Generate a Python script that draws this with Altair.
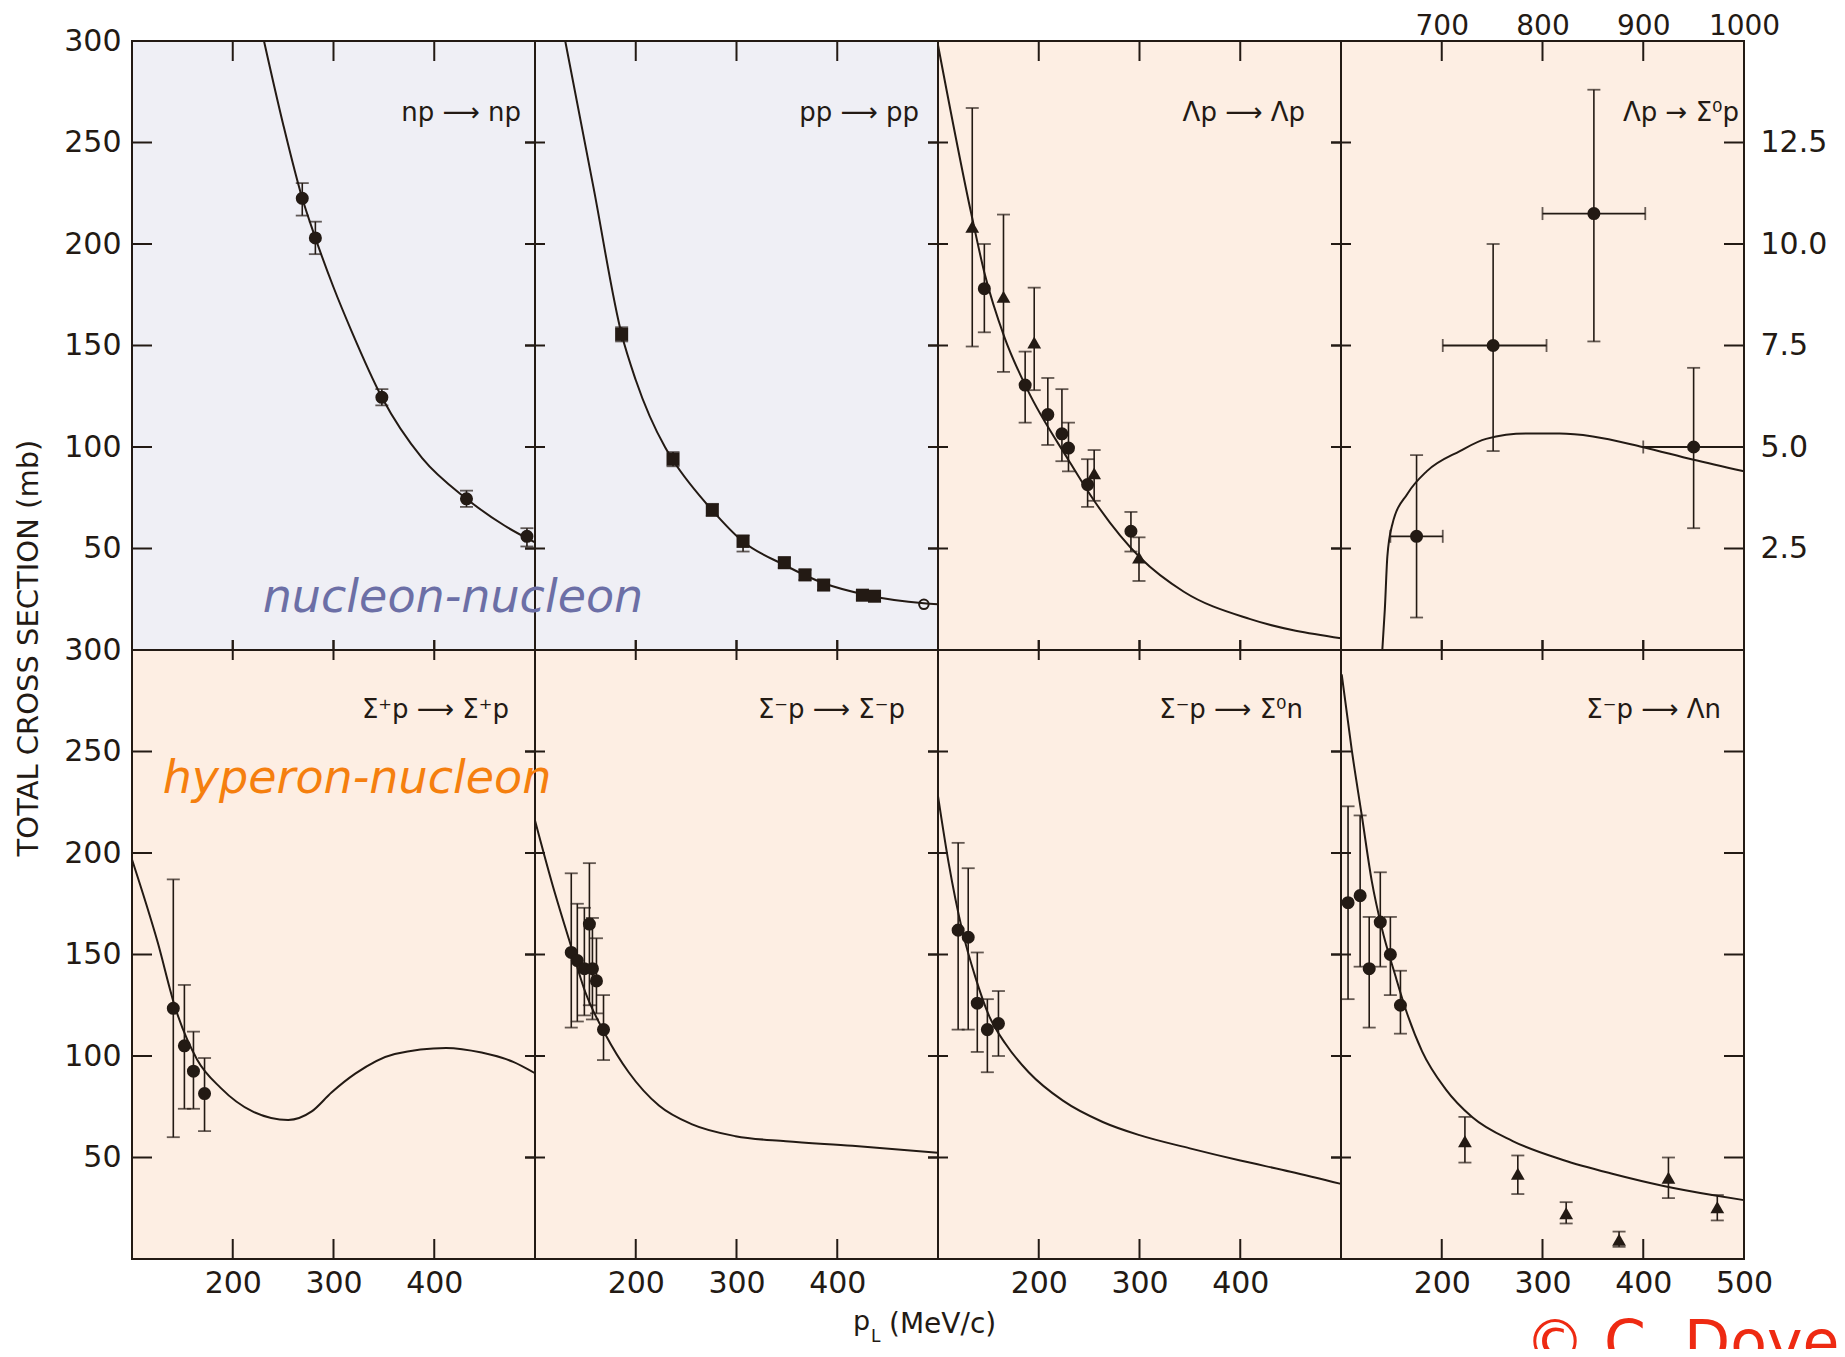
import altair as alt
import pandas as pd

INK = "#231a14"
LAV = "#efeff5"
PEACH = "#fdeee3"
FONT = "DejaVu Sans"
W, H = 403, 609
TL = 20

# ---------------- data ----------------
# np -> np
NP_CURVE_X = [231, 250, 269, 282, 300, 318, 348, 388, 432, 470, 500]
NP_CURVE_Y = [300, 259, 222.5, 203, 178.7, 157, 124.5, 94.5, 74.5, 61.2, 53]
NP_X = [269, 282, 348, 432, 492]
NP_Y = [222.5, 203, 124.5, 74.5, 56]
NP_LO = [214, 195, 120.5, 70.5, 51]
NP_HI = [230, 211, 128.5, 78.5, 60]

# pp -> pp
PP_CURVE_X = [130, 158, 186, 200, 229, 237, 276, 306, 347, 386, 430, 486, 500]
PP_CURVE_Y = [300, 228, 155.5, 133, 100, 93.5, 68.8, 53.6, 42, 33, 27, 23, 22.5]
PP_X = [186, 237, 276, 306.5, 347.5, 368, 386.5, 425, 437]
PP_Y = [155.5, 94, 69, 53.5, 43, 37, 32, 27, 26.5]
PP_LO = [152, 90.5, 66, 48.5, 40.5, 34.5, 29.5, 25, 24.5]
PP_HI = [159, 97.5, 72, 56.5, 45.5, 39.5, 34.5, 29, 28.5]
PP_OPEN_X = [486]
PP_OPEN_Y = [22.5]

# Lambda p -> Lambda p
LP_CURVE_X = [100, 133, 146, 166, 189, 229, 255, 301, 344, 410, 500]
LP_CURVE_Y = [298, 215, 186, 154, 128, 94, 73.5, 45.3, 28.7, 15.2, 5.8]
LPC_X = [146, 186.5, 209, 223, 229.5, 248.5, 291.5]
LPC_Y = [178, 130.5, 116, 106.5, 99.5, 81.5, 58.5]
LPC_LO = [156.5, 112, 101, 93, 88, 70.5, 48.5]
LPC_HI = [200, 147, 134, 128.5, 112, 94, 68]
LPT_X = [134, 165, 195.5, 255, 299.5]
LPT_Y = [208.5, 174, 151.5, 87, 45.5]
LPT_LO = [149.5, 137, 128, 73.5, 34]
LPT_HI = [267, 214.5, 178.5, 98.5, 55.5]

# Lambda p -> Sigma0 p (p_L 600-1000, sigma 0-15 mb)
LS_CURVE_X = [641, 643.5, 646, 651, 666, 685, 718, 744, 784, 817, 850, 899, 949, 1000]
LS_CURVE_Y = [0, 1.0, 2.3, 3.1, 3.85, 4.4, 4.9, 5.2, 5.33, 5.33, 5.26, 5.0, 4.69, 4.4]
LS_X = [675, 751, 851, 950]
LS_Y = [2.8, 7.5, 10.75, 5.0]
LS_LO = [0.8, 4.9, 7.6, 3.0]
LS_HI = [4.8, 10.0, 13.8, 6.95]
LS_XLO = [649, 701, 800, 900]
LS_XHI = [701, 804, 902, 1000]

# Sigma+ p -> Sigma+ p
SP_CURVE_X = [100, 125.5, 143, 164.7, 188, 219.6, 255, 278.4, 298, 321.6, 360.8, 411.8, 447, 478.4, 500]
SP_CURVE_Y = [196.8, 156, 123.7, 98.2, 84.3, 72.7, 68.5, 72.7, 82, 91.3, 101, 104, 101.7, 97.1, 91.5]
SP_X = [141, 152, 161, 172]
SP_Y = [123.5, 105, 92.5, 81.5]
SP_LO = [60, 74, 74, 63]
SP_HI = [187, 135, 112, 99]

# Sigma- p -> Sigma- p
SM_CURVE_X = [100, 117, 134, 150, 170, 193, 223, 256, 299, 349, 415, 500]
SM_CURVE_Y = [216, 185, 157, 131.4, 110.5, 92, 75.6, 66.3, 60.5, 58, 55.8, 52.3]
SM_X = [136, 142, 149, 154, 157, 161, 168]
SM_Y = [151, 147, 143, 165, 143, 137, 113]
SM_LO = [114, 117, 120, 125, 118, 121, 98]
SM_HI = [190, 175, 173, 195, 168, 158, 130]

# Sigma- p -> Sigma0 n
SZ_CURVE_X = [100, 110.6, 124, 137, 150.5, 167, 190, 224, 263.5, 300, 350, 400, 450, 500]
SZ_CURVE_Y = [228, 195, 162, 139, 120, 106, 92, 78, 67.5, 61, 54.5, 48.5, 43, 37]
SZ_X = [120, 130, 139, 149, 160]
SZ_Y = [162, 158.5, 126, 113, 116]
SZ_LO = [113, 113, 102, 92, 100]
SZ_HI = [205, 192.5, 151, 128, 132]

# Sigma- p -> Lambda n
SL_CURVE_X = [100.7, 110.6, 120.6, 130.6, 140.6, 154, 164, 180.5, 203.8, 230.4, 270.4, 320.3, 370.2, 420.2, 470, 500]
SL_CURVE_Y = [288, 251, 218.6, 186, 162.8, 139.5, 123.3, 102.3, 83.7, 69.8, 58.1, 48.8, 41.9, 36, 31.4, 29]
SLC_X = [107, 119, 128, 139, 149, 159]
SLC_Y = [175.5, 179, 143, 166, 150, 125]
SLC_LO = [128, 144, 114, 144, 130, 111]
SLC_HI = [223, 218.5, 168.5, 190.5, 168.5, 142]
SLT_X = [223, 275.5, 323.5, 376, 425, 473.5]
SLT_Y = [58, 42, 22.5, 9.5, 40, 25.5]
SLT_LO = [47.5, 32, 17.5, 6, 30, 19]
SLT_HI = [70, 51, 28, 13.5, 50, 31.5]

# axis tick values and labels
PL_TICKS = [200, 300, 400]
PL_TICKS_HIGH = [700, 800, 900]
SIGMA_TICKS = [50, 100, 150, 200, 250]
SIGMA_TICKS_SMALL = [2.5, 5.0, 7.5, 10.0, 12.5]
LEFT_LABELS = [50, 100, 150, 200, 250, 300]
BOTTOM_LABELS = [200, 300, 400]
BOTTOM_LABELS_LAST = [200, 300, 400, 500]
TOP_LABELS = [700, 800, 900, 1000]
RIGHT_LABELS = [2.5, 5.0, 7.5, 10.0, 12.5]

LABELS = ["np ⟶ np", "pp ⟶ pp", "Λp ⟶ Λp", "Λp → Σ⁰p",
          "Σ⁺p ⟶ Σ⁺p", "Σ⁻p ⟶ Σ⁻p", "Σ⁻p ⟶ Σ⁰n", "Σ⁻p ⟶ Λn"]

LABEL_SIZE = 30


def ax(orient, values, pad, fmt="d", size=LABEL_SIZE):
    return alt.Axis(orient=orient, values=values, ticks=False, domain=False, grid=False,
                    tickSize=0, labelPadding=pad, labelFont=FONT, labelFontSize=size,
                    labelColor=INK, title=None, format=fmt, labelOverlap=False,
                    labelFlush=False)


def txt(t, x, y, size, color=INK, align="left", angle=0, style="normal"):
    return alt.Chart(alt.Data(values=[{"t": t}])).mark_text(
        align=align, baseline="alphabetic" if angle == 0 else "middle", font=FONT, fontSize=size,
        color=color, angle=angle, fontStyle=style).encode(
        x=alt.value(x), y=alt.value(y), text="t:N")


def make_panel(row, col, xdom, ydom, xt, yt, bg, curve, series, label, lx, ly,
               xaxis=None, yaxis=None, xerr=None, extra=()):
    def X(f):
        return alt.X(f, type="quantitative", scale=alt.Scale(domain=xdom, nice=False, zero=False),
                     axis=xaxis, title=None)

    def Y(f):
        return alt.Y(f, type="quantitative", scale=alt.Scale(domain=ydom, nice=False, zero=False),
                     axis=yaxis, title=None)

    layers = []
    cdf = pd.DataFrame({"x": curve[0], "y": curve[1]})
    layers.append(alt.Chart(cdf).mark_line(interpolate="monotone", color=INK, strokeWidth=2)
                  .encode(x=X("x"), y=Y("y")))
    if xerr is not None:
        edf = pd.DataFrame({"y": xerr[0], "xlo": xerr[1], "xhi": xerr[2]})
        eb = alt.Chart(edf)
        layers.append(eb.mark_rule(color=INK, strokeWidth=1.8).encode(x=X("xlo"), x2="xhi", y=Y("y")))
        layers.append(eb.mark_tick(orient="vertical", color=INK, size=13, thickness=1.8)
                      .encode(x=X("xlo"), y=Y("y")))
        layers.append(eb.mark_tick(orient="vertical", color=INK, size=13, thickness=1.8)
                      .encode(x=X("xhi"), y=Y("y")))
    for s in series:
        df = pd.DataFrame({"x": s["x"], "y": s["y"]})
        if "lo" in s:
            df["lo"] = s["lo"]
            df["hi"] = s["hi"]
        base = alt.Chart(df)
        if "lo" in s:
            layers.append(base.mark_rule(color=INK, strokeWidth=1.6).encode(x=X("x"), y=Y("lo"), y2="hi"))
            layers.append(base.mark_tick(orient="horizontal", color=INK, size=13, thickness=1.8)
                          .encode(x=X("x"), y=Y("lo")))
            layers.append(base.mark_tick(orient="horizontal", color=INK, size=13, thickness=1.8)
                          .encode(x=X("x"), y=Y("hi")))
        layers.append(base.mark_point(shape=s["shape"], filled=s.get("filled", True), size=s["size"],
                                      color=INK, opacity=1, strokeWidth=2)
                      .encode(x=X("x"), y=Y("y")))
    # frame ticks
    top = (0, TL) if row == 0 else (-TL / 2, TL / 2)
    bottom = (H - TL, H) if row == 1 else (H - TL / 2, H + TL / 2)
    left = (0, TL) if col == 0 else (-TL / 2, TL / 2)
    right = (W - TL, W) if col == 3 else (W - TL / 2, W + TL / 2)
    xtd = alt.Chart(pd.DataFrame({"v": xt}))
    ytd = alt.Chart(pd.DataFrame({"v": yt}))
    for a, b in (top, bottom):
        layers.append(xtd.mark_rule(color=INK, strokeWidth=2)
                      .encode(x=X("v"), y=alt.value(a), y2=alt.value(b)))
    for a, b in (left, right):
        layers.append(ytd.mark_rule(color=INK, strokeWidth=2)
                      .encode(y=Y("v"), x=alt.value(a), x2=alt.value(b)))
    layers.append(txt(label, lx, ly, 26, align="right"))
    layers.extend(extra)
    return alt.layer(*layers).properties(
        width=W, height=H,
        view=alt.ViewBackground(fill=bg, stroke=INK, strokeWidth=2))


D1 = [100, 500]
S1 = [0, 300]

p1 = make_panel(0, 0, D1, S1, PL_TICKS, SIGMA_TICKS, LAV, (NP_CURVE_X, NP_CURVE_Y),
                [dict(x=NP_X, y=NP_Y, lo=NP_LO, hi=NP_HI, shape="circle", size=170)],
                LABELS[0], 389, 80, yaxis=ax("left", LEFT_LABELS, 11),
                extra=[txt("TOTAL CROSS SECTION (mb)", -103, 607, 29, angle=270, align="center")])
p2 = make_panel(0, 1, D1, S1, PL_TICKS, SIGMA_TICKS, LAV, (PP_CURVE_X, PP_CURVE_Y),
                [dict(x=PP_X, y=PP_Y, lo=PP_LO, hi=PP_HI, shape="square", size=170),
                 dict(x=PP_OPEN_X, y=PP_OPEN_Y, shape="circle", size=90, filled=False)],
                LABELS[1], 384, 80,
                extra=[txt("nucleon-nucleon", 321 - W, 571, 46, color="#6c6fa6", align="center",
                           style="italic")])
p3 = make_panel(0, 2, D1, S1, PL_TICKS, SIGMA_TICKS, PEACH, (LP_CURVE_X, LP_CURVE_Y),
                [dict(x=LPC_X, y=LPC_Y, lo=LPC_LO, hi=LPC_HI, shape="circle", size=170),
                 dict(x=LPT_X, y=LPT_Y, lo=LPT_LO, hi=LPT_HI, shape="triangle-up", size=190)],
                LABELS[2], 367, 80)
p4 = make_panel(0, 3, [600, 1000], [0, 15], PL_TICKS_HIGH, SIGMA_TICKS_SMALL, PEACH,
                (LS_CURVE_X, LS_CURVE_Y),
                [dict(x=LS_X, y=LS_Y, lo=LS_LO, hi=LS_HI, shape="circle", size=170)],
                LABELS[3], 398, 80, xaxis=ax("top", TOP_LABELS, 1, size=28),
                yaxis=ax("right", RIGHT_LABELS, 16, fmt=".1f"),
                xerr=(LS_Y, LS_XLO, LS_XHI))

p5 = make_panel(1, 0, D1, S1, PL_TICKS, SIGMA_TICKS, PEACH, (SP_CURVE_X, SP_CURVE_Y),
                [dict(x=SP_X, y=SP_Y, lo=SP_LO, hi=SP_HI, shape="circle", size=170)],
                LABELS[4], 377, 68, xaxis=ax("bottom", BOTTOM_LABELS, 9),
                yaxis=ax("left", LEFT_LABELS, 11))
p6 = make_panel(1, 1, D1, S1, PL_TICKS, SIGMA_TICKS, PEACH, (SM_CURVE_X, SM_CURVE_Y),
                [dict(x=SM_X, y=SM_Y, lo=SM_LO, hi=SM_HI, shape="circle", size=170)],
                LABELS[5], 370, 68, xaxis=ax("bottom", BOTTOM_LABELS, 9),
                extra=[txt("hyperon-nucleon", 225 - W, 143, 46, color="#f57f0e", align="center",
                           style="italic"),
                       txt("p", 318, 680, 27), txt("L", 336, 692, 17),
                       txt("(MeV/c)", 354, 683, 28)])
p7 = make_panel(1, 2, D1, S1, PL_TICKS, SIGMA_TICKS, PEACH, (SZ_CURVE_X, SZ_CURVE_Y),
                [dict(x=SZ_X, y=SZ_Y, lo=SZ_LO, hi=SZ_HI, shape="circle", size=170)],
                LABELS[6], 365, 68, xaxis=ax("bottom", BOTTOM_LABELS, 9))
p8 = make_panel(1, 3, D1, S1, PL_TICKS, SIGMA_TICKS, PEACH, (SL_CURVE_X, SL_CURVE_Y),
                [dict(x=SLC_X, y=SLC_Y, lo=SLC_LO, hi=SLC_HI, shape="circle", size=170),
                 dict(x=SLT_X, y=SLT_Y, lo=SLT_LO, hi=SLT_HI, shape="triangle-up", size=190)],
                LABELS[7], 380, 68, xaxis=ax("bottom", BOTTOM_LABELS_LAST, 9),
                extra=[txt("© C. Dover", 184, 713, 60, color="#ee2a12")])

# canvas: 1829 x 1341 (page minus its 8px margins); plot area starts at (124, 33)
chart = alt.concat(p1, p2, p3, p4, p5, p6, p7, p8, columns=4, spacing=0, bounds="flush").properties(
    autosize=alt.AutoSizeParams(type="none"),
    padding={"left": 124, "top": 33, "right": 1705, "bottom": 1308},
    background="white")

chart.save("out.html", embed_options={"renderer": "svg", "actions": False})
